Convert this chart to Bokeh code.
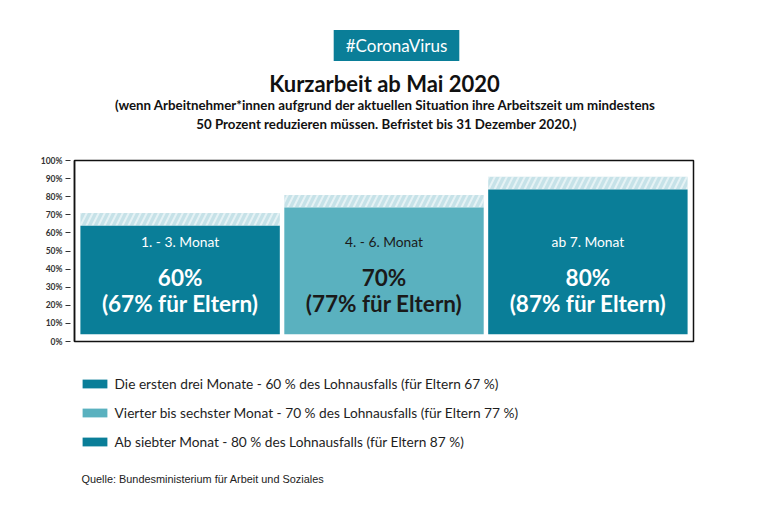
from bokeh.plotting import figure
from bokeh.layouts import column
from bokeh.models import (FactorRange, Range1d, ColumnDataSource, Label, Legend,
                          LegendItem, PrintfTickFormatter, FixedTicker)
from bokeh.core.properties import value
from bokeh.embed import file_html
from bokeh.resources import INLINE

# ---- data ----
categories = ["1. - 3. Monat", "4. - 6. Monat", "ab 7. Monat"]
rate = [60, 70, 80]             # % des Lohnausfalls
rate_parents = [67, 77, 87]     # % für Eltern
bar_labels = ["60%", "70%", "80%"]
parent_labels = ["(67% für Eltern)", "(77% für Eltern)", "(87% für Eltern)"]
legend_labels = [
    "Die ersten drei Monate - 60 % des Lohnausfalls (für Eltern 67 %)",
    "Vierter bis sechster Monat - 70 % des Lohnausfalls (für Eltern 77 %)",
    "Ab siebter Monat - 80 % des Lohnausfalls (für Eltern 87 %)",
]
y_ticks = [0, 10, 20, 30, 40, 50, 60, 70, 80, 90, 100]

# ---- style ----
FONT = "Lato"
DARK = "#0a7e98"
MID = "#5ab1bf"
HATCH_BG = "#c6e2e8"
bar_colors = [DARK, MID, DARK]
text_colors = ["#ffffff", "#1a1a1a", "#ffffff"]
BASE = 4  # bars start slightly above the frame bottom

src = ColumnDataSource(dict(
    cat=categories,
    base=[BASE] * 3,
    top=[BASE + v for v in rate],
    ptop=[BASE + v for v in rate_parents],
    color=bar_colors,
    tcolor=text_colors,
    lab=bar_labels,
    plab=parent_labels,
))

W = 768
H_HEAD, H_MAIN, H_FOOT = 150, 200, 155
FRAME_LEFT = 74  # frames of the stacked figures are aligned


def blank(height, **kw):
    f = figure(width=W, height=height, output_backend="svg", toolbar_location=None,
               min_border_left=FRAME_LEFT, min_border_right=75,
               min_border_top=0, min_border_bottom=0, **kw)
    f.axis.visible = False
    f.grid.visible = False
    f.outline_line_color = None
    f.background_fill_color = "white"
    f.border_fill_color = "white"
    return f


def lab(fig, fig_top, fig_h, X, Y, text, font=FONT, **kw):
    l = Label(x=X - FRAME_LEFT, y=fig_top + fig_h - Y, x_units="screen",
              y_units="screen", text=text, text_font=font, **kw)
    fig.add_layout(l)
    return l


# ---------- header ----------
head = blank(H_HEAD, x_range=Range1d(0, 1), y_range=Range1d(0, 1))
lab(head, 0, H_HEAD, 396, 45, "#CoronaVirus", text_color="white", text_font_size="17px",
    text_align="center", text_baseline="middle",
    background_fill_color=DARK, padding=(12, 5))
lab(head, 0, H_HEAD, 384, 83, "Kurzarbeit ab Mai 2020", text_color="#111111",
    text_font_size="22px", text_font_style="bold", text_align="center",
    text_baseline="middle")
lab(head, 0, H_HEAD, 385, 104,
    "(wenn Arbeitnehmer*innen aufgrund der aktuellen Situation ihre Arbeitszeit um mindestens",
    text_color="#111111", text_font_size="13.3px", text_font_style="bold",
    text_align="center", text_baseline="middle")
lab(head, 0, H_HEAD, 386, 123, "50 Prozent reduzieren müssen. Befristet bis 31 Dezember 2020.)",
    text_color="#111111", text_font_size="13.3px", text_font_style="bold",
    text_align="center", text_baseline="middle")

# ---------- main chart ----------
p = figure(width=W, height=H_MAIN, output_backend="svg", toolbar_location=None,
           x_range=FactorRange(*categories, range_padding=0.012),
           y_range=Range1d(0, 100),
           min_border_left=FRAME_LEFT, min_border_right=75,
           min_border_top=10, min_border_bottom=9)
p.background_fill_color = "white"
p.border_fill_color = "white"
p.outline_line_color = "#111111"
p.outline_line_width = 1.5
p.xgrid.visible = False
p.ygrid.visible = False
p.xaxis.visible = False

ax = p.yaxis[0]
ax.ticker = FixedTicker(ticks=y_ticks)
ax.formatter = PrintfTickFormatter(format="%d%%")
ax.axis_line_color = "#111111"
ax.axis_line_width = 1.5
ax.major_tick_in = -4
ax.major_tick_out = 9
ax.major_tick_line_color = "#333333"
ax.minor_tick_line_color = None
ax.major_label_standoff = 3
ax.major_label_text_font = FONT
ax.major_label_text_font_style = "bold"
ax.major_label_text_font_size = "8.5px"
ax.major_label_text_color = "#333333"

p.vbar(x="cat", bottom="top", top="ptop", width=0.978, source=src,
       fill_color=HATCH_BG, line_color=None,
       hatch_pattern="/", hatch_color="white", hatch_alpha=0.55,
       hatch_scale=12, hatch_weight=2)
p.vbar(x="cat", bottom="base", top="top", width=0.978, source=src,
       fill_color="color", line_color=None)

p.text(x="cat", y=55.2, text="cat", source=src, text_color="tcolor",
       text_font=value(FONT), text_font_size="13.8px",
       text_align="center", text_baseline="middle")
p.text(x="cat", y=35.4, text="lab", source=src, text_color="tcolor",
       text_font=value(FONT), text_font_style="bold", text_font_size="22.5px",
       text_align="center", text_baseline="middle")
p.text(x="cat", y=21, text="plab", source=src, text_color="tcolor",
       text_font=value(FONT), text_font_style="bold", text_font_size="22.5px",
       text_align="center", text_baseline="middle")

# ---------- footer (legend + source) ----------
FOOT_TOP = H_HEAD + H_MAIN
foot = blank(H_FOOT, x_range=FactorRange(*categories), y_range=Range1d(0, 100))
swatch = foot.vbar(x="cat", bottom="base", top="top", width=0.9, source=src,
                   fill_color="color", line_color=None, visible=False)
legend = Legend(
    items=[LegendItem(label=legend_labels[i], renderers=[swatch], index=i) for i in range(3)],
    location=(78.6 - FRAME_LEFT, FOOT_TOP + H_FOOT - 450), orientation="vertical",
    glyph_width=31, glyph_height=11, label_height=11, spacing=12,
    label_standoff=5, padding=0, margin=0,
    border_line_color=None, background_fill_alpha=0, inactive_fill_alpha=0,
    label_text_font=FONT, label_text_font_size="13.7px", label_text_color="#1e1e1e",
)
foot.add_layout(legend, "center")
lab(foot, FOOT_TOP, H_FOOT, 81, 478, "Quelle: Bundesministerium für Arbeit und Soziales",
    font="Liberation Sans", text_font_size="10.9px", text_color="#222222",
    text_baseline="middle")

layout = column(head, p, foot, spacing=0)
open("out.html", "w").write(file_html(layout, INLINE))
